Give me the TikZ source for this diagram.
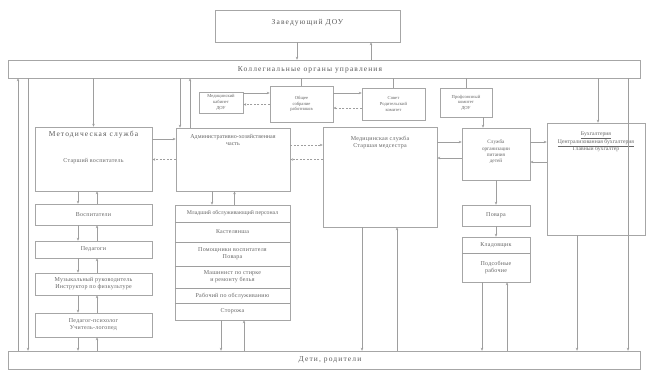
\documentclass[tikz,border=0pt]{standalone}
\usepackage{fontspec}
\setmainfont{Liberation Serif}
\usetikzlibrary{arrows.meta}
\begin{document}
\begin{tikzpicture}[x=1pt,y=-1pt,
 box/.style={draw=black!35, line width=0.5pt, rectangle, inner sep=0pt},
 big/.style={font=\fontsize{7.5}{8.5}\selectfont\addfontfeature{LetterSpace=15}, text=black!65, align=center, inner sep=0pt},
 txt/.style={font=\fontsize{6}{7}\selectfont\addfontfeature{LetterSpace=4}, text=black!60, align=center, inner sep=0pt},
 sml/.style={font=\fontsize{4.6}{5.6}\selectfont, text=black!60, align=center, inner sep=0pt},
 ln/.style={draw=black!38, line width=0.45pt},
 arr/.style={ln, -{Stealth[length=3pt,width=2.4pt]}},
 darr/.style={arr, dash pattern=on 2pt off 1.5pt}]
\useasboundingbox[fill=white] (0,0) rectangle (648,370);

% ---- boxes
\node[box, minimum width=185pt, minimum height=32pt] (top) at (307.5,26) {};
\node[big] (toptxt) at (307.5,23) {Заведующий ДОУ};
\node[box, minimum width=632pt, minimum height=18pt] (band) at (324,69) {};
\node[big] (bandtxt) at (310,70) {Коллегиальные органы управления};
\node[box, minimum width=632pt, minimum height=18pt] (bot) at (324,360) {};
\node[big] (bottxt) at (330,360) {Дети, родители};

% left column
\node[box, minimum width=117pt, minimum height=64pt] (b1) at (93.5,159) {};
\node[big] (b1t) at (93.5,135) {Методическая служба};
\node[txt] (b1s) at (93.5,161) {Старший воспитатель};
\node[box, minimum width=117pt, minimum height=21pt] (b2) at (93.5,214.5) {};
\node[txt] (b2t) at (93.5,214.5) {Воспитатели};
\node[box, minimum width=117pt, minimum height=17pt] (b3) at (93.5,249.5) {};
\node[txt] (b3t) at (93.5,249.5) {Педагоги};
\node[box, minimum width=117pt, minimum height=22pt] (b4) at (93.5,284) {};
\node[txt] (b4t) at (93.5,284) {Музыкальный руководитель\\Инструктор по физкультуре};
\node[box, minimum width=117pt, minimum height=24pt] (b5) at (93.5,325) {};
\node[txt] (b5t) at (93.5,325) {Педагог-психолог\\Учитель-логопед};

% second column
\node[box, minimum width=114pt, minimum height=63pt] (hoz) at (233,159.5) {};
\node[txt, font=\fontsize{6}{7}\selectfont] (hozt) at (233,140) {Административно-хозяйственная\\часть};
\node[box, minimum width=115pt, minimum height=115pt] (lst) at (232.5,262.5) {};
\node[txt, font=\fontsize{5.8}{7}\selectfont] (l1) at (232.5,213) {Младший обслуживающий персонал};
\node[txt] (l2) at (232.5,232) {Кастелянша};
\node[txt] (l3) at (232.5,254) {Помощники воспитателя\\Повара};
\node[txt] (l4) at (232.5,277) {Машинист по стирке\\и ремонту белья};
\node[txt] (l5) at (232.5,295.5) {Рабочий по обслуживанию};
\node[txt] (l6) at (232.5,311.5) {Сторожа};
\foreach \yy in {222,242,266,288,303}
  \draw[ln] (lst.west |- 0,\yy) -- (lst.east |- 0,\yy);

% upper small boxes
\node[box, minimum width=44pt, minimum height=21pt] (A) at (221,102.5) {};
\node[sml] (At) at (221,102.5) {Медицинский\\кабинет\\ДОУ};
\node[box, minimum width=63pt, minimum height=36pt] (B) at (301.5,104) {};
\node[sml] (Bt) at (301.5,104) {Общее\\собрание\\работников};
\node[box, minimum width=63pt, minimum height=32pt] (C) at (393.5,104) {};
\node[sml] (Ct) at (393.5,104) {Совет\\Родительский\\комитет};
\node[box, minimum width=52pt, minimum height=29pt] (D) at (466,102.5) {};
\node[sml] (Dt) at (466,102.5) {Профсоюзный\\комитет\\ДОУ};

% middle
\node[box, minimum width=114pt, minimum height=100pt] (med) at (380,177) {};
\node[txt] (medt) at (380,142) {Медицинская служба\\Старшая медсестра};

% right middle
\node[box, minimum width=68pt, minimum height=52pt] (rm) at (496,154) {};
\node[sml, font=\fontsize{5.2}{6.4}\selectfont] (rmt) at (496,152) {Служба\\организации\\питания\\детей};
\node[box, minimum width=68pt, minimum height=21pt] (pov) at (496,215.5) {};
\node[txt] (povt) at (496,215.5) {Повара};
\node[box, minimum width=68pt, minimum height=45pt] (grp) at (496,259.5) {};
\draw[ln] (grp.west |- 0,253) -- (grp.east |- 0,253);
\node[txt] (g1) at (496,245) {Кладовщик};
\node[txt] (g2) at (496,267) {Подсобные\\рабочие};

% right
\node[box, minimum width=98pt, minimum height=112pt] (rb) at (596,179) {};
\node[sml, font=\fontsize{5.7}{7.6}\selectfont] (rbt) at (596,142) {\underline{Бухгалтерия}\\\underline{Централизованная бухгалтерия}\\Главный бухгалтер};

% ---- connectors
\draw[arr] ([xshift=-10.5pt]top.south) -- ([xshift=-10.5pt]top.south |- band.north);
\draw[arr] ([xshift=63.5pt]top.south |- band.north) -- ([xshift=63.5pt]top.south);

% left column
\draw[arr] (b1.north |- band.south) -- (b1.north);
\draw[arr] ([xshift=-296pt]band.south) -- ([xshift=-296pt]band.south |- bot.north);
\draw[arr] ([xshift=-306pt]bot.north) -- ([xshift=-306pt]bot.north |- band.south);
\foreach \u/\v in {b1/b2,b2/b3,b3/b4,b4/b5}{
  \draw[arr] ([xshift=-15.5pt]\u.south) -- ([xshift=-15.5pt]\v.north);
  \draw[arr] ([xshift=3.5pt]\v.north) -- ([xshift=3.5pt]\u.south);
}
\draw[arr] ([xshift=-15.5pt]b5.south) -- ([xshift=-15.5pt]b5.south |- bot.north);
\draw[arr] ([xshift=3.5pt]b5.south |- bot.north) -- ([xshift=3.5pt]b5.south);

% left <-> hoz
\draw[darr] (hoz.west) -- (hoz.west -| b1.east);
\draw[arr] ([yshift=20pt]b1.east) -- ([yshift=20pt]b1.east -| hoz.west);

% hoz <-> band, list
\draw[arr] ([xshift=-53pt]hoz.north |- band.south) -- ([xshift=-53pt]hoz.north);
\draw[arr] ([xshift=-43pt]hoz.north) -- ([xshift=-43pt]hoz.north |- band.south);
\draw[arr] ([xshift=-21pt]hoz.south) -- ([xshift=-21pt]hoz.south |- lst.north);
\draw[arr] ([xshift=2pt]lst.north) -- ([xshift=2pt]lst.north |- hoz.south);
\draw[arr] ([xshift=-11.5pt]lst.south) -- ([xshift=-11.5pt]lst.south |- bot.north);
\draw[arr] ([xshift=11.5pt]lst.south |- bot.north) -- ([xshift=11.5pt]lst.south);

% small boxes
\draw[arr] ([yshift=9.5pt]A.east) -- ([yshift=9.5pt]A.east -| B.west);
\draw[darr] ([yshift=-0.5pt]B.west) -- ([yshift=-0.5pt]B.west -| A.east);
\draw[arr] ([yshift=11pt]B.east) -- ([yshift=11pt]B.east -| C.west);
\draw[darr] ([yshift=-4pt]C.west) -- ([yshift=-4pt]C.west -| B.east);
\draw[ln] (C.north) -- (C.north |- band.south);
\draw[ln] (B.north) -- (B.north |- band.south);
\draw[ln] (D.north) -- (D.north |- band.south);
\draw[arr] ([xshift=17pt]D.south) -- ([xshift=17pt]D.south |- rm.north);

% hoz <-> med
\draw[darr] ([yshift=14.5pt]hoz.east) -- ([yshift=14.5pt]hoz.east -| med.west);
\draw[darr] ([yshift=17.5pt]med.west) -- ([yshift=17.5pt]med.west -| hoz.east);

% med <-> rm
\draw[arr] ([yshift=12pt]rm.west -| med.east) -- ([yshift=12pt]rm.west);
\draw[arr] ([yshift=-4pt]rm.west) -- ([yshift=-4pt]rm.west -| med.east);
\draw[arr] ([xshift=-18pt]med.south) -- ([xshift=-18pt]med.south |- bot.north);
\draw[arr] ([xshift=17pt]med.south |- bot.north) -- ([xshift=17pt]med.south);

% rm <-> right
\draw[arr] ([yshift=12pt]rm.east) -- ([yshift=12pt]rm.east -| rb.west);
\draw[arr] ([yshift=-8pt]rm.east -| rb.west) -- ([yshift=-8pt]rm.east);
\draw[arr] ([xshift=2pt]rb.north |- band.south) -- ([xshift=2pt]rb.north);
\draw[arr] ([xshift=-19pt]rb.south) -- ([xshift=-19pt]rb.south |- bot.north);
\draw[arr] ([xshift=304pt]band.south) -- ([xshift=304pt]band.south |- bot.north);

% rm -> pov -> grp
\draw[arr] (rm.south) -- (pov.north);
\draw[arr] (pov.south) -- (grp.north);
\draw[arr] ([xshift=-14pt]grp.south) -- ([xshift=-14pt]grp.south |- bot.north);
\draw[arr] ([xshift=11pt]grp.south |- bot.north) -- ([xshift=11pt]grp.south);
\end{tikzpicture}
\end{document}
